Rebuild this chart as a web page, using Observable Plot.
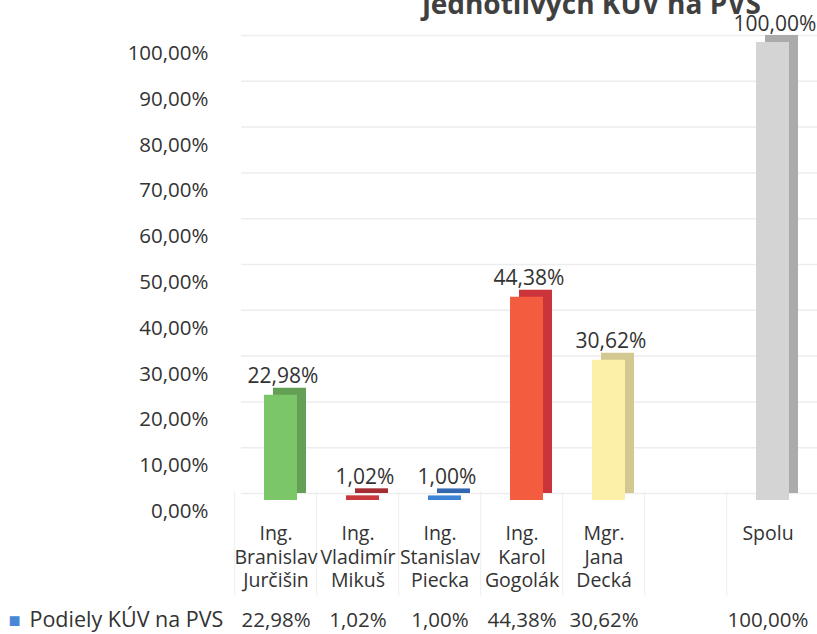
<!DOCTYPE html>
<html><head><meta charset="utf-8">
<script src="https://cdn.jsdelivr.net/npm/d3@7"></script>
<script src="https://cdn.jsdelivr.net/npm/@observablehq/plot@0.6"></script>
<style>body{margin:0;overflow:hidden;background:#fff}</style>
</head><body><div id="chart"></div>
<script>
// ---- data ----
const categories = ["Jurčišin", "Mikuš", "Piecka", "Gogolák", "Decká", "(prázdne)", "Spolu"];
const categoryLabels = ["Ing.\nBranislav\nJurčišin", "Ing.\nVladimír\nMikuš", "Ing.\nStanislav\nPiecka", "Ing.\nKarol\nGogolák", "Mgr.\nJana\nDecká", "", "Spolu"];
const shares = [22.98, 1.02, 1.00, 44.38, 30.62, null, 100.00];
const seriesName = "Podiely KÚV na PVS";
const yTicks = [0, 10, 20, 30, 40, 50, 60, 70, 80, 90, 100];
const titleText = "jednotlivých KÚV na PVS";

// ---- styles ----
const frontPalette = ["#7cc66a", "#c8383c", "#3e84d6", "#f35c3e", "#fcefa8", null, "#d4d4d4"];
const sidePalette  = ["#639f55", "#a32d31", "#3168b0", "#cc343b", "#d3c792", null, "#ababab"];
const textColor = "#333333";

const fmt = v => v.toFixed(2).replace(".", ",") + "%";
const rows = categories.map((c, i) => ({key: c, label: categoryLabels[i], value: shares[i], i}));
const bars = rows.filter(d => d.value != null);

const W = 817, H = 634, ML = 232, MR = 7, MT = 42, MB = 134;
const step = (W - ML - MR) / categories.length;

const chart = Plot.plot({
  width: W, height: H,
  marginLeft: ML, marginRight: MR, marginTop: MT, marginBottom: MB,
  style: {fontFamily: "'Open Sans', Lato, sans-serif", fontSize: "20px", color: textColor, overflow: "hidden", background: "#fff"},
  x: {domain: categories, paddingInner: 0.6, paddingOuter: 0.3, axis: null},
  y: {domain: [0, 100], axis: null},
  color: {type: "identity"},
  marks: [
    Plot.ruleY(yTicks, {y: d => d, stroke: "#ededed", strokeWidth: 1.5, dx: 9, dy: -7}),
    Plot.ruleX(rows, {x: "key", y1: 2, y2: -21, stroke: "#eeeeee", dx: -step / 2}),
    Plot.axisY({ticks: yTicks, tickFormat: fmt, tickSize: 0, tickPadding: 24, dy: 11, fontSize: 20.5, fill: textColor, label: null}),
    // side/top (back) faces
    Plot.barY(bars, {x: "key", y: "value", fill: d => sidePalette[d.i], dx: 14, dy: -7}),
    // front faces
    Plot.barY(bars, {x: "key", y: "value", fill: d => frontPalette[d.i], dx: 5}),
    // value labels
    Plot.text(bars, {x: "key", y: "value", text: d => fmt(d.value), lineAnchor: "bottom", dy: -12, dx: 7, fontSize: 21, fill: textColor}),
    // data table: category labels
    Plot.text(rows, {x: "key", y: 0, text: "label", lineAnchor: "top", dy: 22, lineHeight: 1.23, fontSize: 19.5, fill: textColor}),
    // data table: values
    Plot.text(bars, {x: "key", y: 0, text: d => fmt(d.value), lineAnchor: "middle", dy: 120, fontSize: 20.5, fill: textColor}),
    // legend key
    Plot.text(["■"], {frameAnchor: "bottom-left", text: d => d, textAnchor: "start", dx: -224, dy: 120, lineAnchor: "middle", fill: "#4a86d4", fontSize: 20}),
    Plot.text([seriesName], {frameAnchor: "bottom-left", text: d => d, textAnchor: "start", dx: -203, dy: 120, lineAnchor: "middle", fontSize: 21.5, fill: textColor}),
    // title (cut off at top in reference)
    Plot.text([titleText], {frameAnchor: "top", text: d => d, dx: 70, dy: -29, lineAnchor: "bottom", fontWeight: "bold", fontSize: 28, fill: "#404040"})
  ]
});
document.getElementById("chart").append(chart);
</script>
</body></html>
